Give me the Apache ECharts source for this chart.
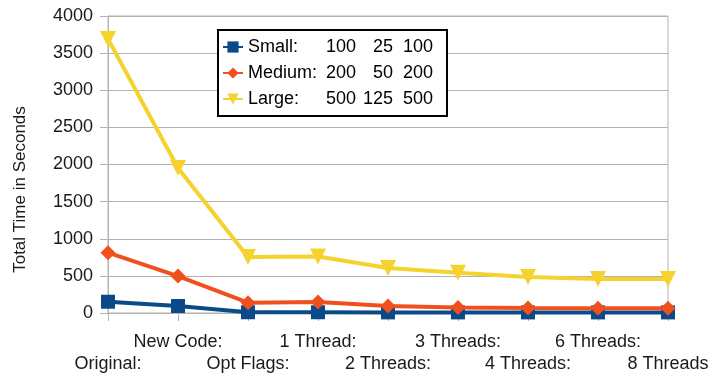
<!DOCTYPE html>
<html>
<head>
<meta charset="utf-8">
<script src="https://cdn.jsdelivr.net/npm/echarts@6/dist/echarts.min.js"></script>
<style>
html,body{margin:0;padding:0;background:#fff;}
#chart{width:713px;height:378px;}
</style>
</head>
<body>
<div id="chart"></div>
<script>
var categories = ['Original:', 'New Code:', 'Opt Flags:', '1 Thread:', '2 Threads:', '3 Threads:', '4 Threads:', '6 Threads:', '8 Threads'];
var smallValues = [152, 94, 10, 10, 8, 8, 8, 8, 8];
var mediumValues = [812, 498, 139, 148, 94, 75, 68, 65, 65];
var largeValues = [3690, 1953, 754, 760, 606, 543, 485, 458, 458];
var yTicks = [0, 500, 1000, 1500, 2000, 2500, 3000, 3500, 4000];
var legendCols = {
  'Small': ['Small:', '100', '25', '100'],
  'Medium': ['Medium:', '200', '50', '200'],
  'Large': ['Large:', '500', '125', '500']
};

var FONT = 'Liberation Sans, Arial, sans-serif';
var chart = echarts.init(document.getElementById('chart'), null, {renderer: 'canvas'});
chart.setOption({
  animation: false,
  backgroundColor: '#fff',
  color: ['#0a4a88', '#f0501e', '#f5d22e'],
  grid: {left: 108, right: 45, top: 16, bottom: 65, show: true, borderColor: '#b3b3b3', borderWidth: 1, backgroundColor: 'transparent'},
  legend: {
    orient: 'vertical',
    left: 218, top: 30,
    padding: [7, 14, 7, 4],
    itemGap: 6,
    itemWidth: 20, itemHeight: 14,
    borderColor: '#000', borderWidth: 2,
    backgroundColor: '#fff',
    data: ['Small', 'Medium', 'Large'],
    formatter: function (name) {
      var c = legendCols[name];
      return '{n|' + c[0] + '}{a|' + c[1] + '}{b|' + c[2] + '}{c|' + c[3] + '}';
    },
    textStyle: {
      fontFamily: FONT, fontSize: 18, color: '#000', lineHeight: 20,
      rich: {
        n: {width: 80, align: 'left', fontFamily: FONT, fontSize: 18, color: '#000'},
        a: {width: 28, align: 'right', fontFamily: FONT, fontSize: 18, color: '#000'},
        b: {width: 37, align: 'right', fontFamily: FONT, fontSize: 18, color: '#000'},
        c: {width: 40, align: 'right', fontFamily: FONT, fontSize: 18, color: '#000'}
      }
    }
  },
  xAxis: {
    type: 'category',
    data: categories,
    boundaryGap: false,
    axisLine: {show: true, lineStyle: {color: '#b3b3b3', width: 1}},
    axisTick: {show: true, length: 8, lineStyle: {color: '#b3b3b3'}},
    splitLine: {show: false},
    axisLabel: {
      interval: 0,
      margin: 18,
      fontFamily: FONT, fontSize: 18, color: '#1a1a1a', lineHeight: 22,
      formatter: function (v, i) { return i % 2 === 0 ? '\n' + v : v; }
    }
  },
  yAxis: {
    type: 'value',
    min: 0, max: 4000, interval: 500,
    name: 'Total Time in Seconds',
    nameLocation: 'middle',
    nameGap: 79,
    nameTextStyle: {fontFamily: FONT, fontSize: 17, color: '#1a1a1a', padding: [0, 50, 0, 0]},
    axisLine: {show: true, lineStyle: {color: '#b3b3b3', width: 1}},
    axisTick: {show: true, length: 8, lineStyle: {color: '#b3b3b3'}},
    splitLine: {show: true, lineStyle: {color: '#b3b3b3', width: 1}},
    axisLabel: {
      margin: 15, fontFamily: FONT, fontSize: 18, color: '#1a1a1a',
      formatter: function (v) { return yTicks.indexOf(v) >= 0 ? String(v) : ''; }
    }
  },
  series: [
    {name: 'Small', type: 'line', data: smallValues, symbol: 'rect', symbolSize: 14,
     lineStyle: {width: 4}, z: 3},
    {name: 'Medium', type: 'line', data: mediumValues, symbol: 'diamond', symbolSize: 15,
     lineStyle: {width: 4}, z: 4},
    {name: 'Large', type: 'line', data: largeValues, symbol: 'triangle', symbolRotate: 180, symbolSize: 16,
     lineStyle: {width: 4}, z: 5}
  ]
});
</script>
</body>
</html>
